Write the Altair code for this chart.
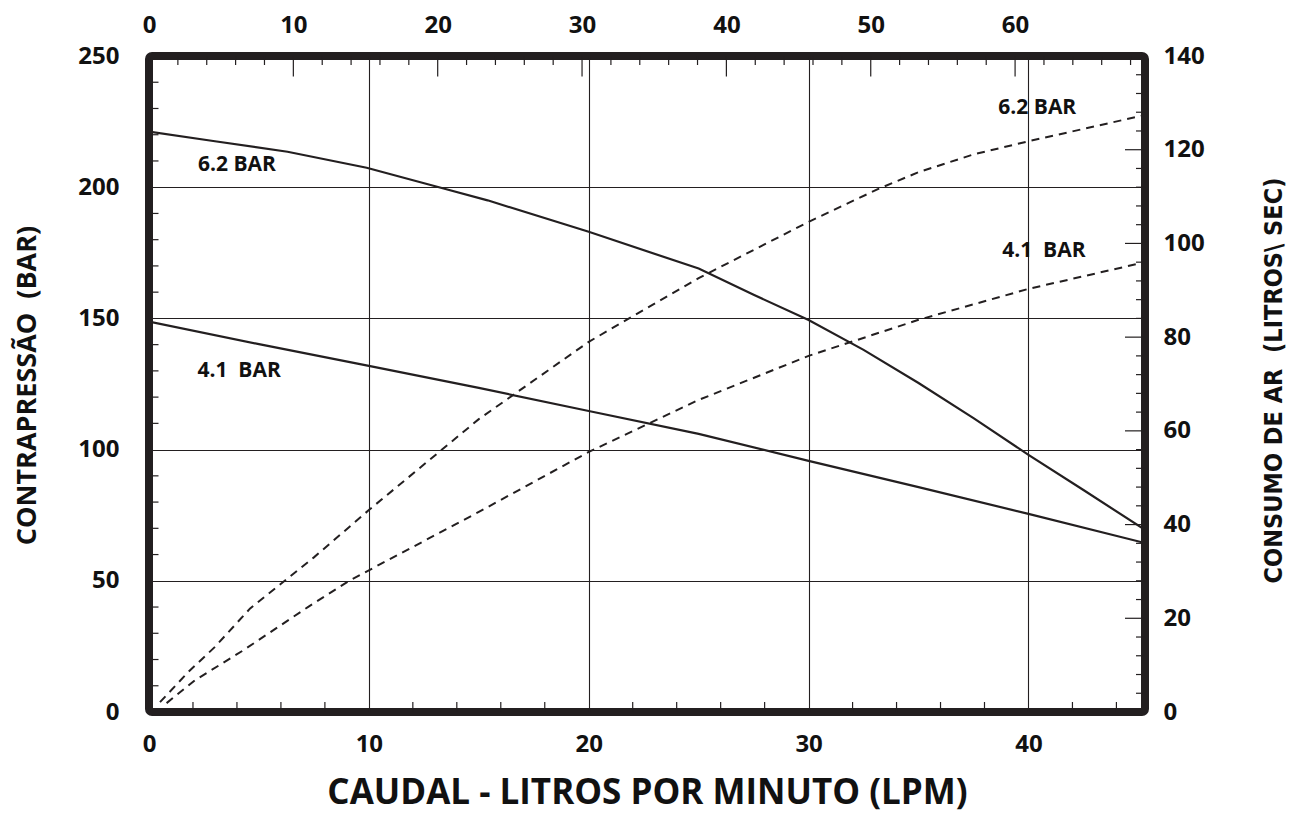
import altair as alt
import pandas as pd

# ---------------- data ----------------
# Back-pressure curves (left axis, bottom axis in LPM)
lpm_62 = [0, 3, 6.3, 9.9, 13.4, 15.4, 20, 25, 27.5, 30, 32.5, 35, 37.5, 40, 42.5, 45.3]
bp_62 = [221.2, 217.5, 213.5, 207.4, 199.5, 195, 183, 169, 159, 149.4, 138, 125.4, 112, 98, 84.6, 69.4]
lpm_41 = [0, 5, 10, 15, 20, 25, 30, 35, 40, 45.3]
bp_41 = [148.8, 140.2, 131.9, 123.5, 114.7, 106, 95.7, 85.7, 75.5, 64.4]

# Air consumption curves (right axis)
air_lpm_62 = [0.5, 1.8, 3.0, 4.6, 7.5, 10, 15, 20, 25, 30, 33.2, 35, 37.5, 40, 45.3]
air_62 = [2.1, 8.6, 13.9, 22.1, 33, 43.1, 62.5, 79, 92.6, 104.6, 111.7, 115.2, 119, 121.8, 127.4]
air_lpm_41 = [0.8, 2.1, 4.3, 7.26, 9.1, 15, 20, 25, 30, 35, 40, 45.3]
air_41 = [1.9, 6.8, 13.2, 22.5, 28, 42.7, 55.5, 66.6, 76, 83.7, 90.3, 96]

# curve labels
left_lab_text = ["6.2 BAR", "4.1\u00a0 BAR"]
left_lab_x = [4.0, 4.1]
left_lab_y = [208.5, 130]
right_lab_text = ["6.2 BAR", "4.1\u00a0 BAR"]
right_lab_x = [40.4, 40.7]
right_lab_y = [128.9, 98.3]

# tick values
bottom_labels = [0, 10, 20, 30, 40]
bottom_minor = [2, 4, 6, 8, 12, 14, 16, 18, 22, 24, 26, 28, 32, 34, 36, 38, 42, 44]
left_labels = [0, 50, 100, 150, 200, 250]
left_minor = [10, 20, 30, 40, 60, 70, 80, 90, 110, 120, 130, 140, 160, 170, 180, 190, 210, 220, 230, 240]
right_labels = [0, 20, 40, 60, 80, 100, 120, 140]
right_major = [20, 40, 60, 80, 100, 120]
right_minor = [4, 8, 12, 16, 24, 28, 32, 36, 44, 48, 52, 56, 64, 68, 72, 76, 84, 88, 92, 96,
               104, 108, 112, 116, 124, 128, 132, 136]
top_labels = [0, 10, 20, 30, 40, 50, 60]
top_major = [10, 20, 30, 40, 50, 60]
top_minor = [2, 4, 6, 8, 12, 14, 16, 18, 22, 24, 26, 28, 32, 34, 36, 38, 42, 44, 46, 48,
             52, 54, 56, 58, 62, 64, 66, 68]

# ---------------- styling ----------------
W, H = 996, 656
FONT = "Open Sans"
NARROW = "'Liberation Sans Narrow', 'DejaVu Sans Condensed', 'Open Sans'"
INK = "#231f20"
TXT = "#111111"

x_bottom = alt.Scale(domain=[0, 45.3], nice=False, zero=False)
x_top = alt.Scale(domain=[0, 69], nice=False, zero=False)
y_left = alt.Scale(domain=[0, 250], nice=False)
y_right = alt.Scale(domain=[0, 140], nice=False)

lab = dict(labelFont=FONT, labelFontSize=24, labelFontWeight="bold", labelColor=TXT,
           ticks=False, domain=False, labelFlush=False)
tit = dict(titleFontWeight="bold", titleColor=TXT)

ax_bottom = alt.Axis(orient="bottom", values=bottom_labels, grid=True, gridColor=INK, gridWidth=1.1,
                     labelPadding=20, titleFont=FONT, titleFontSize=35, titleX=W / 2, titleY=91,
                     titleAlign="center", titleBaseline="alphabetic", **lab, **tit)
ax_left = alt.Axis(orient="left", values=left_labels, grid=True, gridColor=INK, gridWidth=1.1,
                   labelPadding=30, titleFont=FONT, titleFontSize=27, titleAngle=270, titleX=-122,
                   titleY=329, titleAlign="center", titleBaseline="middle", **lab, **tit)
ax_right = alt.Axis(orient="right", values=right_labels, grid=False,
                    labelPadding=18, titleFont=NARROW, titleFontSize=25, titleAngle=270, titleX=128,
                    titleY=324, titleAlign="center", titleBaseline="middle", **lab, **tit)
ax_top = alt.Axis(orient="top", values=top_labels, grid=False, labelPadding=19, **lab)

XT = "CAUDAL - LITROS POR MINUTO (LPM)"
YL = "CONTRAPRESSÃO\u00a0 (BAR)"
YR = "CONSUMO DE AR\u00a0 (LITROS\\ SEC)"

# ---------------- frames ----------------
solid = pd.concat([
    pd.DataFrame({"lpm": lpm_62, "v": bp_62, "s": "6.2"}),
    pd.DataFrame({"lpm": lpm_41, "v": bp_41, "s": "4.1"}),
])
dashed = pd.concat([
    pd.DataFrame({"lpm": air_lpm_62, "v": air_62, "s": "6.2"}),
    pd.DataFrame({"lpm": air_lpm_41, "v": air_41, "s": "4.1"}),
])
left_lab = pd.DataFrame({"t": left_lab_text, "lpm": left_lab_x, "v": left_lab_y})
right_lab = pd.DataFrame({"t": right_lab_text, "lpm": right_lab_x, "v": right_lab_y})


def xb(field):
    return alt.X(field, type="quantitative", scale=x_bottom, axis=ax_bottom, title=XT)


def yl(field):
    return alt.Y(field, type="quantitative", scale=y_left, axis=ax_left, title=YL)


# ----- group L : bottom x / left y -----
solid_lines = alt.Chart(solid).mark_line(color=INK, strokeWidth=2.2, clip=True).encode(
    x=xb("lpm"), y=yl("v"), detail="s:N")
left_text = alt.Chart(left_lab).mark_text(font=FONT, fontSize=21, fontWeight="bold", color=TXT,
                                          align="center", baseline="middle").encode(
    x=xb("lpm"), y=yl("v"), text="t:N")
bottom_ticks = alt.Chart(pd.DataFrame({"t": bottom_minor})).mark_rule(color=INK, strokeWidth=1.2).encode(
    x=xb("t"), y=alt.value(H), y2=alt.value(H - 10))
left_ticks = alt.Chart(pd.DataFrame({"t": left_minor})).mark_rule(color=INK, strokeWidth=1.2).encode(
    y=yl("t"), x=alt.value(0), x2=alt.value(9.5))
group_L = alt.layer(bottom_ticks, left_ticks, solid_lines, left_text)


# ----- group R : right y -----
def xr(field):
    return alt.X(field, type="quantitative", scale=x_bottom, axis=None)


def yr(field):
    return alt.Y(field, type="quantitative", scale=y_right, axis=ax_right, title=YR)


dashed_lines = alt.Chart(dashed).mark_line(color=INK, strokeWidth=2, strokeDash=[8, 6], clip=True).encode(
    x=xr("lpm"), y=yr("v"), detail="s:N")
right_text = alt.Chart(right_lab).mark_text(font=FONT, fontSize=21, fontWeight="bold", color=TXT,
                                            align="center", baseline="middle").encode(
    x=xr("lpm"), y=yr("v"), text="t:N")
right_major_ticks = alt.Chart(pd.DataFrame({"t": right_major})).mark_rule(color=INK, strokeWidth=1.2).encode(
    y=yr("t"), x=alt.value(W), x2=alt.value(W - 20))
right_minor_ticks = alt.Chart(pd.DataFrame({"t": right_minor})).mark_rule(color=INK, strokeWidth=1.2).encode(
    y=yr("t"), x=alt.value(W), x2=alt.value(W - 9))
group_R = alt.layer(right_major_ticks, right_minor_ticks, dashed_lines, right_text)


# ----- group T : top x -----
def xt(field):
    return alt.X(field, type="quantitative", scale=x_top, axis=ax_top, title=None)


top_major_ticks = alt.Chart(pd.DataFrame({"t": top_major})).mark_rule(color=INK, strokeWidth=1.2).encode(
    x=xt("t"), y=alt.value(0), y2=alt.value(20.5))
top_minor_ticks = alt.Chart(pd.DataFrame({"t": top_minor})).mark_rule(color=INK, strokeWidth=1.2).encode(
    x=xt("t"), y=alt.value(0), y2=alt.value(9))
group_T = alt.layer(top_major_ticks, top_minor_ticks)

chart = (
    alt.layer(group_L, group_R, group_T)
    .resolve_scale(x="independent", y="independent")
    .properties(
        width=W, height=H,
        autosize=alt.AutoSizeParams(type="none"),
        padding={"left": 141, "top": 48, "right": 142, "bottom": 101},
        background="white",
    )
    .configure_view(stroke=INK, strokeWidth=8, cornerRadius=3)
)

chart.save("out.html", embed_options={"renderer": "svg", "actions": False})
